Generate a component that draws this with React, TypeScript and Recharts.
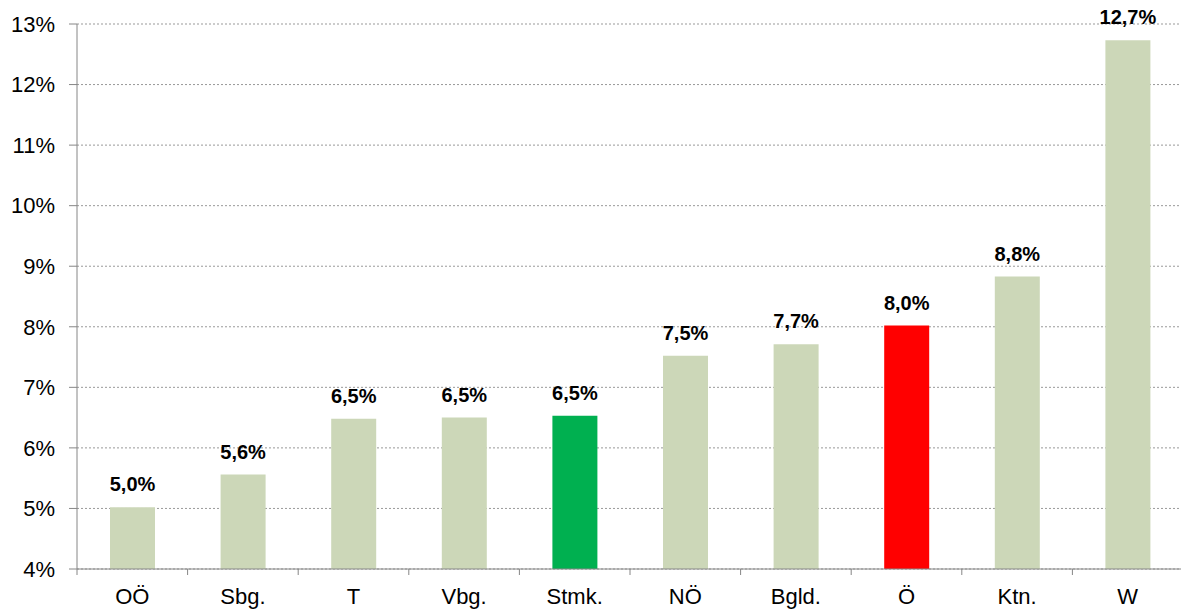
import { BarChart, Bar, XAxis, YAxis, CartesianGrid, Cell, LabelList } from "recharts";

const regions = ["OÖ", "Sbg.", "T", "Vbg.", "Stmk.", "NÖ", "Bgld.", "Ö", "Ktn.", "W"];
const rates = [5.02, 5.56, 6.48, 6.5, 6.53, 7.52, 7.71, 8.02, 8.83, 12.73];
const barColors = ["#ccd7b8", "#ccd7b8", "#ccd7b8", "#ccd7b8", "#00b050", "#ccd7b8", "#ccd7b8", "#ff0000", "#ccd7b8", "#ccd7b8"];
const yTicks = [4, 5, 6, 7, 8, 9, 10, 11, 12, 13];

const data = regions.map((name, i) => ({ name, value: rates[i] }));

const fmt = (v: any) => Number(v).toFixed(1).replace(".", ",") + "%";

const CHART_W = 1190;
const AXIS_W = 77;
const RIGHT = 7;
const X_MARGIN = 19;
const band = (CHART_W - AXIS_W - RIGHT) / regions.length;

// ticks at the category boundaries, like the original
const CategoryTick = (props: any) => {
  const { x, y, payload, index } = props;
  const half = band / 2;
  const top = y - X_MARGIN;
  return (
    <g>
      <line x1={x - half} x2={x - half} y1={top} y2={top + 6} stroke="#868686" />
      {index === regions.length - 1 && (
        <line x1={x + half} x2={x + half} y1={top} y2={top + 6} stroke="#868686" />
      )}
      <text x={x} y={y} dy="0.71em" textAnchor="middle" fill="#000" fontSize={22}>
        {payload.value}
      </text>
    </g>
  );
};

const App = () => {
  return (
    <div style={{ position: "absolute", left: 0, top: 0, fontFamily: "'Liberation Sans', Arial, sans-serif" }}>
      <BarChart
        width={CHART_W}
        height={610}
        data={data}
        margin={{ top: 24, right: RIGHT, bottom: 0, left: 0 }}
      >
        <CartesianGrid vertical={false} stroke="#999" strokeDasharray="2 2" />
        <XAxis
          dataKey="name"
          height={41}
          tickLine={false}
          tickSize={0}
          axisLine={{ stroke: "#868686" }}
          tick={<CategoryTick />}
          tickMargin={X_MARGIN}
          interval={0}
        />
        <YAxis
          domain={[4, 13]}
          ticks={yTicks}
          tickFormatter={(v) => v + "%"}
          width={AXIS_W}
          tick={{ fill: "#000", fontSize: 22 }}
          tickLine={{ stroke: "#868686" }}
          tickSize={8}
          tickMargin={14}
          axisLine={{ stroke: "#868686" }}
          allowDataOverflow
        />
        <Bar dataKey="value" barSize={45} isAnimationActive={false}>
          {data.map((_, idx) => (
            <Cell key={`cell-${idx}`} fill={barColors[idx]} />
          ))}
          <LabelList
            dataKey="value"
            position="top"
            offset={16}
            formatter={fmt}
            style={{ fontSize: 20, fontWeight: "bold", fill: "#000" }}
          />
        </Bar>
      </BarChart>
    </div>
  );
};

export default App;
